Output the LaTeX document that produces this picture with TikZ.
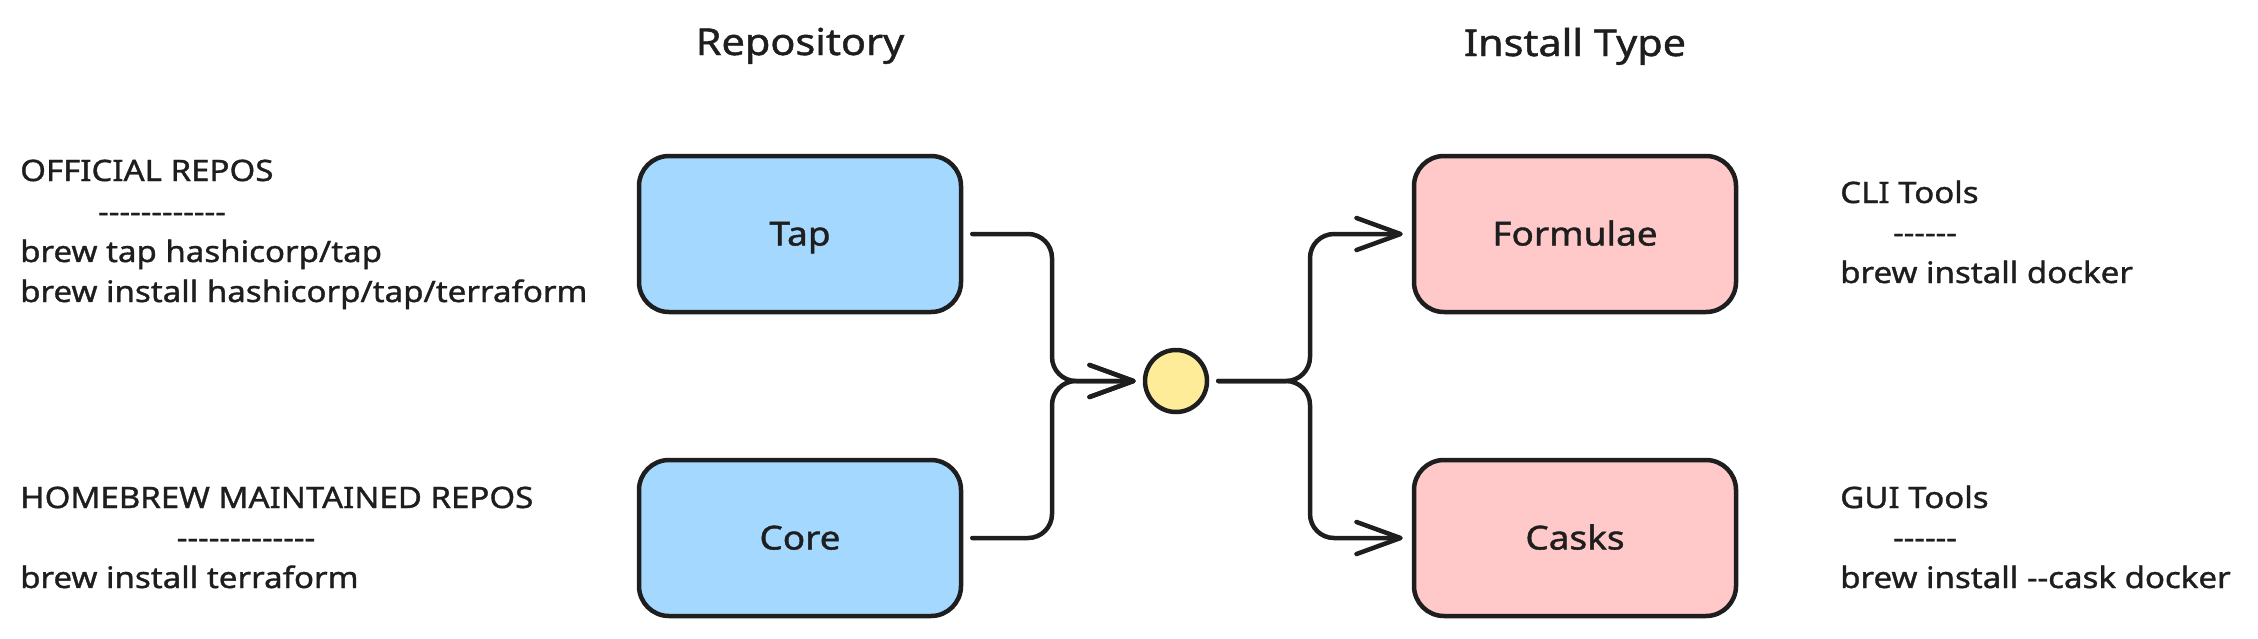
\documentclass[tikz,border=0pt]{standalone}
\usepackage{fontspec}
\setmainfont[FakeStretch=1.12, FakeBold=1.2]{Noto Sans}
\usetikzlibrary{arrows.meta}
\definecolor{ink}{HTML}{1E1E1E}
\definecolor{bluefill}{HTML}{A5D8FF}
\definecolor{pinkfill}{HTML}{FFC9C9}
\definecolor{yellowfill}{HTML}{FFEC99}
\newcommand\hy{\mbox{-}}
\newcommand\bodyfs{\fontsize{29.5pt}{40pt}\selectfont}
\begin{document}
\begin{tikzpicture}[x=1pt,y=1pt,
  box/.style={draw=ink, line width=4.5pt, rounded corners=30pt, minimum width=322pt, minimum height=156pt, inner sep=0pt, text height=23pt, text depth=0pt, font=\fontsize{33pt}{40pt}\selectfont, text=ink},
  repobox/.style={box, fill=bluefill},
  typebox/.style={box, fill=pinkfill},
  hub/.style={draw=ink, fill=yellowfill, line width=4.5pt, circle, minimum size=62pt, inner sep=0pt},
  note/.style={anchor=base west, inner sep=0pt, text=ink, font=\bodyfs},
  dashline/.style={anchor=base, inner sep=0pt, text=ink, font=\bodyfs},
  header/.style={anchor=base, inner sep=0pt, text=ink, font=\fontsize{37pt}{44pt}\selectfont},
  conn/.style={draw=ink, line width=4.5pt, line cap=round, line join=round, rounded corners=24pt, -{Straight Barb[length=44pt,width=32pt,round]}},
]
\useasboundingbox (0,0) rectangle (2258,-638);

% headers
\node[header] (hrepo) at (800,-55) {Repository};
\node[header] (htype) at (1575,-56) {Install Type};

% boxes
\node[repobox] (tap) at (800,-234) {Tap};
\node[repobox] (core) at (800,-538) {Core};
\node[typebox] (form) at (1575,-234) {Formulae};
\node[typebox] (cask) at (1575,-538) {Casks};
\node[hub] (hub) at (1176,-381) {};

% left notes
\node[note] (o1) at (20,-181) {OFFICIAL REPOS};
\node[dashline] (o2) at (162,-222) {\hy\hy\hy\hy\hy\hy\hy\hy\hy\hy\hy\hy};
\node[note] (o3) at (20,-262) {brew tap hashicorp/tap};
\node[note] (o4) at (20,-302) {brew install hashicorp/tap/terraform};

\node[note] (h1) at (20,-508) {HOMEBREW MAINTAINED REPOS};
\node[dashline] (h2) at (246,-548) {\hy\hy\hy\hy\hy\hy\hy\hy\hy\hy\hy\hy\hy};
\node[note] (h3) at (20,-588) {brew install terraform};

% right notes
\node[note] (c1) at (1840,-203) {CLI Tools};
\node[dashline] (c2) at (1925,-243) {\hy\hy\hy\hy\hy\hy};
\node[note] (c3) at (1840,-283) {brew install docker};

\node[note] (g1) at (1840,-508) {GUI Tools};
\node[dashline] (g2) at (1925,-548) {\hy\hy\hy\hy\hy\hy};
\node[note] (g3) at (1840,-588) {brew install \hy\hy cask docker};

% connectors
\coordinate (mL) at (1052,-381);
\coordinate (mR) at (1310,-381);
\draw[conn, shorten <=9pt, shorten >=7pt] (tap.east) -| (mL) -- (hub.west);
\draw[conn, shorten <=9pt, shorten >=7pt] (core.east) -| (mL) -- (hub.west);
\draw[conn, shorten <=9pt, shorten >=9pt] (hub.east) -- (mR) |- (form.west);
\draw[conn, shorten <=9pt, shorten >=9pt] (hub.east) -- (mR) |- (cask.west);
\end{tikzpicture}
\end{document}
